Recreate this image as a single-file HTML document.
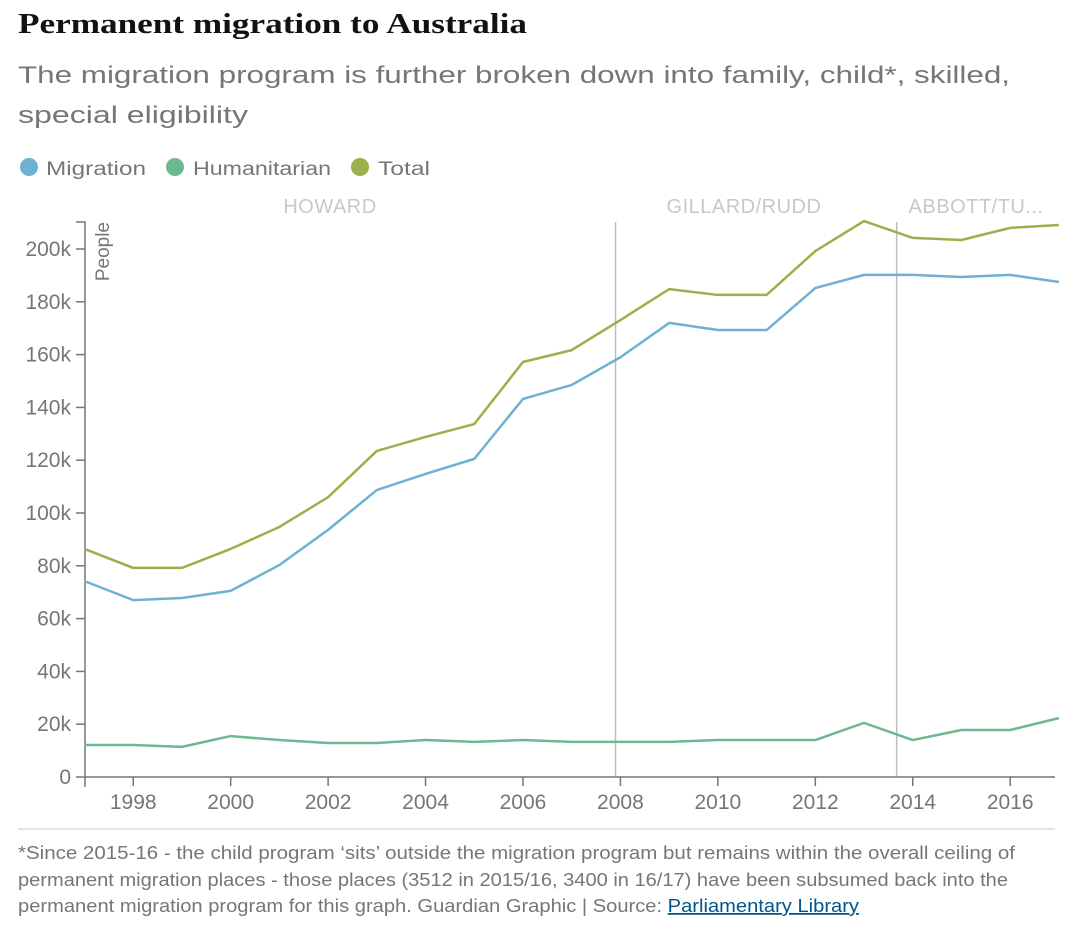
<!DOCTYPE html>
<html><head><meta charset="utf-8">
<style>
body{margin:0;background:#fff;width:1080px;height:929px;overflow:hidden;font-family:"Liberation Sans",sans-serif}
</style></head>
<body>
<svg width="1080" height="929" xmlns="http://www.w3.org/2000/svg" font-family="Liberation Sans, sans-serif">
<text x="18" y="33" font-family="Liberation Serif, serif" font-weight="bold" font-size="29" fill="#121212" textLength="509" lengthAdjust="spacingAndGlyphs">Permanent migration to Australia</text>
<text x="18" y="83" font-size="24" fill="#767676" textLength="992" lengthAdjust="spacingAndGlyphs">The migration program is further broken down into family, child*, skilled,</text>
<text x="18" y="123" font-size="24" fill="#767676" textLength="230" lengthAdjust="spacingAndGlyphs">special eligibility</text>
<g font-size="19" fill="#767676">
<circle cx="29" cy="167" r="9" fill="#6fb1d3"/>
<text x="46" y="175" textLength="100" lengthAdjust="spacingAndGlyphs">Migration</text>
<circle cx="175" cy="167" r="9" fill="#6cb88f"/>
<text x="193" y="175" textLength="138" lengthAdjust="spacingAndGlyphs">Humanitarian</text>
<circle cx="360" cy="167" r="9" fill="#9ab04a"/>
<text x="378" y="175" textLength="52" lengthAdjust="spacingAndGlyphs">Total</text>
</g>
<g id="plot"></g>
<line x1="18" y1="829" x2="1055" y2="829" stroke="#dcdcdc" stroke-width="1.5"/>
<g font-size="18" fill="#767676">
<text x="18" y="859" textLength="997" lengthAdjust="spacingAndGlyphs">*Since 2015-16 - the child program ‘sits’ outside the migration program but remains within the overall ceiling of</text>
<text x="18" y="886" textLength="990" lengthAdjust="spacingAndGlyphs">permanent migration places - those places (3512 in 2015/16, 3400 in 16/17) have been subsumed back into the</text>
<text x="18" y="912" textLength="841" lengthAdjust="spacingAndGlyphs">permanent migration program for this graph. Guardian Graphic | Source: <tspan fill="#005689" text-decoration="underline">Parliamentary Library</tspan></text>
</g>
</svg>
<script>
const years=[1997,1998,1999,2000,2001,2002,2003,2004,2005,2006,2007,2008,2009,2010,2011,2012,2013,2014,2015,2016,2017];
const migration=[74.2,67,67.8,70.5,80.3,93.6,108.7,114.8,120.5,143.2,148.5,159,172,169.3,169.3,185.2,190.2,190.2,189.4,190.2,187.5];
const humanitarian=[12.1,12.1,11.4,15.5,14,12.9,12.9,14,13.3,14,13.3,13.3,13.3,14,14,14,20.5,14,17.8,17.8,22.3];
const total=[86.4,79.2,79.2,86.4,94.7,106,123.5,128.8,133.7,157.2,161.7,173.1,184.8,182.6,182.6,199.2,210.6,204.2,203.4,208,209.1];
const yTicks=[0,20,40,60,80,100,120,140,160,180,200];
const xTicks=[1998,2000,2002,2004,2006,2008,2010,2012,2014,2016];
const eras=[{name:"HOWARD",start:1996,end:2007.9},{name:"GILLARD/RUDD",start:2007.9,end:2013.67},{name:"ABBOTT/TU...",start:2013.67,end:2017}];
const NS="http://www.w3.org/2000/svg";
const X=v=>84.5+(v-1997)*48.72;
const Y=v=>777-v*2.64;
const g=document.getElementById('plot');
function mk(t,a){const e=document.createElementNS(NS,t);for(const k in a)e.setAttribute(k,a[k]);g.appendChild(e);return e;}
const eraCx=[330,744,976];
eras.forEach((er,i)=>{
  if(i>0){const l=mk('line',{x1:X(er.start),x2:X(er.start),y1:222,y2:777,stroke:'#bdbdbd','stroke-width':1.5});
  
  }
  const t=mk('text',{x:eraCx[i],y:213,'text-anchor':'middle','font-size':20,fill:'#c8c8c8','letter-spacing':'0.5'});
  t.textContent=er.name;
  
  
});
const ya=mk('path',{d:`M76 222H85V777`,stroke:'#767676','stroke-width':1.5,fill:'none'});


const xa=mk('path',{d:`M85 777H1055`,stroke:'#767676','stroke-width':1.5,fill:'none'});


mk('line',{x1:85,x2:85,y1:777,y2:787,stroke:'#767676','stroke-width':1.5});
yTicks.forEach(v=>{
  mk('line',{x1:76,x2:85,y1:Y(v),y2:Y(v),stroke:'#767676','stroke-width':1.5});
  const t=mk('text',{x:71,y:Y(v)+7,'text-anchor':'end','font-size':21,fill:'#767676'});
  t.textContent=v==0?'0':v+'k';
  
  
});
xTicks.forEach(v=>{
  mk('line',{x1:X(v),x2:X(v),y1:777,y2:786,stroke:'#767676','stroke-width':1.5});
  const t=mk('text',{x:X(v),y:809,'text-anchor':'middle','font-size':21,fill:'#767676'});
  t.textContent=v;
  
  
});
const yt=mk('text',{transform:'translate(109,222) rotate(-90)','text-anchor':'end','font-size':19,fill:'#767676'});
yt.textContent='People';


[[migration,'#6fb1d3','migration-line'],[humanitarian,'#6cb88f','humanitarian-line'],[total,'#9ab04a','total-line']].forEach(([d,c,n])=>{
  const p=mk('polyline',{points:d.map((v,i)=>X(years[i])+','+Y(v)).join(' '),fill:'none',stroke:c,'stroke-width':2.5,'stroke-linejoin':'round'});
  
  
});
</script>
</body></html>
